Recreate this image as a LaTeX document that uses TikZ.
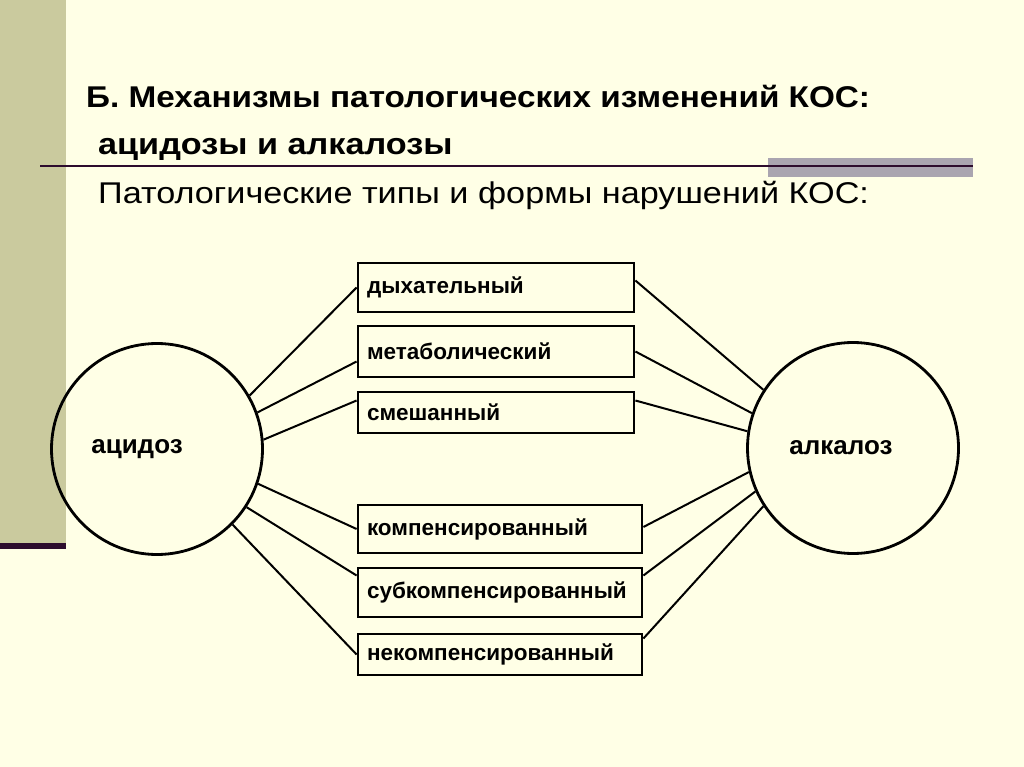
\documentclass[tikz,border=0pt]{standalone}
\usepackage{fontspec}
\setmainfont{Liberation Sans}
\usetikzlibrary{positioning}
\definecolor{slidebg}{RGB}{255,255,230}
\definecolor{sidebar}{RGB}{202,202,158}
\definecolor{plumline}{RGB}{45,12,45}
\definecolor{greybar}{RGB}{170,165,176}

\begin{document}
\begin{tikzpicture}[x=1pt, y=-1pt,
  kind/.style={draw, line width=2.8pt, inner xsep=9pt, inner ysep=0pt, align=left,
    font=\bfseries\fontsize{22.5}{26}\selectfont},
  state/.style={circle, draw, line width=2.8pt, minimum size=211pt, inner sep=0pt,
    font=\bfseries\fontsize{26}{30}\selectfont},
  link/.style={line width=2pt}]
\useasboundingbox (0,0) rectangle (1024,767);
% slide background
\fill[slidebg] (0,0) rectangle (1024,767);
\fill[sidebar] (0,0) rectangle (66,543);
\fill[plumline] (0,543) rectangle (66,549);
\fill[greybar] (768,158) rectangle (973,177);
\draw[plumline, line width=2pt] (40,166) -- (973,166);

\node[anchor=base west, inner sep=0pt, font=\bfseries\fontsize{30}{34}\selectfont] (title) at (86,108)
  {\scalebox{1.11}[1]{Б. Механизмы патологических изменений КОС:}};
\node[anchor=base west, inner sep=0pt, font=\bfseries\fontsize{30}{34}\selectfont] (subtitle) at (98,155)
  {\scalebox{1.14}[1]{ацидозы и алкалозы}};
\node[anchor=base west, inner sep=0pt, font=\fontsize{30}{34}\selectfont] (types) at (98,204)
  {\scalebox{1.14}[1]{Патологические типы и формы нарушений КОС:}};

\node[state, label={[xshift=-20pt, font=\bfseries\fontsize{26}{30}\selectfont]center:ацидоз}] (acid) at (157,449) {};
\node[state, label={[xshift=-12pt, font=\bfseries\fontsize{26}{30}\selectfont]center:алкалоз}] (alk) at (853,448) {};

\node[kind, text width=258pt, minimum height=49pt] (resp) at (496,287.5) {дыхательный};
\node[kind, text width=258pt, minimum height=51pt] (metab) at (496,351.5) {метаболический};
\node[kind, text width=258pt, minimum height=41pt] (mixed) at (496,412.5) {смешанный};
\node[kind, text width=266pt, minimum height=48pt] (comp) at (500,529) {компенсированный};
\node[kind, text width=266pt, minimum height=49pt] (subcomp) at (500,592.5) {субкомпенсированный};
\node[kind, text width=266pt, minimum height=41pt] (decomp) at (500,654.5) {некомпенсированный};

\draw[link] (acid.30) -- (resp.west);
\draw[link] (acid.20) -- ([yshift=-10pt]metab.west);
\draw[link] (acid.5) -- ([yshift=12pt]mixed.west);
\draw[link] (acid.-19) -- (comp.west);
\draw[link] (acid.-33) -- ([yshift=17pt]subcomp.west);
\draw[link] (acid.-45) -- (decomp.west);

\draw[link] (alk.147) -- ([yshift=7pt]resp.east);
\draw[link] (alk.161) -- (metab.east);
\draw[link] (alk.171) -- ([yshift=12pt]mixed.east);
\draw[link] (alk.193) -- ([yshift=2pt]comp.east);
\draw[link] (alk.204) -- ([yshift=17pt]subcomp.east);
\draw[link] (alk.213) -- ([yshift=16pt]decomp.east);
\end{tikzpicture}
\end{document}
